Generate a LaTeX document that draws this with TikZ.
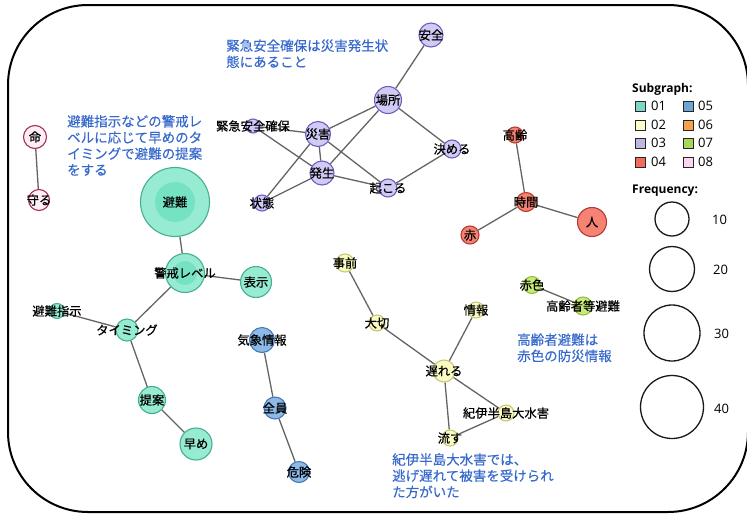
\documentclass[tikz,border=0pt]{standalone}
\usepackage{fontspec}
\setmainfont{Open Sans}
\newfontfamily\jp[FakeBold=0.6]{Noto Sans CJK JP}
\newfontfamily\jpa[FakeBold=0.4]{Noto Sans CJK JP}
\usetikzlibrary{backgrounds}
\definecolor{c1f}{RGB}{150,235,210}\definecolor{c1d}{RGB}{70,175,145}\definecolor{c1i}{RGB}{118,226,196}
\definecolor{c2f}{RGB}{250,250,195}\definecolor{c2d}{RGB}{200,200,120}
\definecolor{c3f}{RGB}{208,203,245}\definecolor{c3d}{RGB}{110,95,190}
\definecolor{c4f}{RGB}{245,130,115}\definecolor{c4d}{RGB}{180,60,50}
\definecolor{c5f}{RGB}{140,185,230}\definecolor{c5d}{RGB}{70,120,180}
\definecolor{c7f}{RGB}{200,235,120}\definecolor{c7d}{RGB}{140,190,70}
\definecolor{c8f}{RGB}{255,238,246}\definecolor{c8d}{RGB}{160,50,90}
\definecolor{L01}{RGB}{127,214,196}\definecolor{L02}{RGB}{255,255,204}
\definecolor{L03}{RGB}{190,184,224}\definecolor{L04}{RGB}{242,107,94}
\definecolor{L05}{RGB}{111,165,213}\definecolor{L06}{RGB}{247,161,79}
\definecolor{L07}{RGB}{168,216,90}\definecolor{L08}{RGB}{251,213,238}
\definecolor{annblue}{RGB}{55,105,205}
\definecolor{edgegray}{RGB}{100,100,100}
\tikzset{
  kw/.style={circle, inner sep=0pt, line width=1.1pt},
  lbl/.style={font=\jp\fontsize{12.3}{12.3}\selectfont, inner sep=0pt, text=black},
  s1/.style={kw, fill=c1f, draw=c1d},
  s2/.style={kw, fill=c2f, draw=c2d},
  s3/.style={kw, fill=c3f, draw=c3d},
  s4/.style={kw, fill=c4f, draw=c4d},
  s5/.style={kw, fill=c5f, draw=c5d},
  s7/.style={kw, fill=c7f, draw=c7d},
  s8/.style={kw, fill=c8f, draw=c8d},
  edge/.style={draw=edgegray, line width=1.3pt},
  ann/.style={font=\jpa\fontsize{13.5}{16.2}\selectfont, text=annblue, align=left, inner sep=0pt, anchor=base west},
  lghead/.style={font=\bfseries\fontsize{12}{12}\selectfont, anchor=west, inner sep=0pt},
  lgnum/.style={font=\fontsize{13}{13}\selectfont, anchor=west, inner sep=0pt},
  lgbox/.style={draw=black!85, line width=0.9pt, minimum size=10pt, inner sep=0pt},
  freq/.style={circle, draw=black!90, line width=1.3pt, inner sep=0pt}
}
\begin{document}
\begin{tikzpicture}[x=1pt,y=-1pt]
\useasboundingbox (0,0) rectangle (747,515);
\draw[line width=2pt, rounded corners=80pt] (8,5) rectangle (748,512);

% subgraph 01
\node[s1, minimum size=69pt, path picture={\fill[c1i] (path picture bounding box.center) circle (20pt);}, label={[lbl]center:避難}] (hinan) at (175,202) {};
\node[s1, minimum size=39pt, path picture={\fill[c1i] (path picture bounding box.center) circle (12pt);}, label={[lbl]center:警戒レベル}] (keikai) at (185,273) {};
\node[s1, minimum size=31pt, label={[lbl]center:表示}] (hyouji) at (256,282) {};
\node[s1, minimum size=15pt, label={[lbl]center:避難指示}] (shiji) at (57,311) {};
\node[s1, minimum size=22pt, label={[lbl]center:タイミング}] (timing) at (127,330) {};
\node[s1, minimum size=27pt, label={[lbl]center:提案}] (teian) at (152,400) {};
\node[s1, minimum size=32pt, label={[lbl]center:早め}] (hayame) at (196,444) {};

% subgraph 08
\node[s8, minimum size=23pt, label={[lbl]center:命}] (inochi) at (35,137) {};
\node[s8, minimum size=21pt, label={[lbl]center:守る}] (mamoru) at (39,200) {};

% subgraph 03
\node[s3, minimum size=24pt, label={[lbl]center:安全}] (anzen) at (431,35) {};
\node[s3, minimum size=27pt, label={[lbl]center:場所}] (basho) at (388,100) {};
\node[s3, minimum size=14pt, label={[lbl]center:緊急安全確保}] (kinkyu) at (253,126) {};
\node[s3, minimum size=25pt, label={[lbl]center:災害}] (saigai) at (318,134) {};
\node[s3, minimum size=18pt, label={[lbl]center:決める}] (kimeru) at (452,149) {};
\node[s3, minimum size=24pt, label={[lbl]center:発生}] (hassei) at (322,173) {};
\node[s3, minimum size=18pt, label={[lbl]center:起こる}] (okoru) at (388,188) {};
\node[s3, minimum size=16pt, label={[lbl]center:状態}] (joutai) at (262,203) {};

% subgraph 04
\node[s4, minimum size=16pt, label={[lbl]center:高齢}] (koureii) at (515,135) {};
\node[s4, minimum size=19pt, label={[lbl]center:時間}] (jikan) at (526,202) {};
\node[s4, minimum size=29pt, label={[lbl]center:人}] (hito) at (592,222) {};
\node[s4, minimum size=18pt, label={[lbl]center:赤}] (aka) at (470,235) {};

% subgraph 02
\node[s2, minimum size=18pt, label={[lbl]center:事前}] (jizen) at (345,263) {};
\node[s2, minimum size=16pt, label={[lbl]center:大切}] (taisetsu) at (377,323) {};
\node[s2, minimum size=16pt, label={[lbl]center:情報}] (jouhou) at (476,310) {};
\node[s2, minimum size=22pt, label={[lbl]center:遅れる}] (okureru) at (444,371) {};
\node[s2, minimum size=16pt, label={[lbl]center:紀伊半島大水害}] (kii) at (506,413) {};
\node[s2, minimum size=16pt, label={[lbl]center:流す}] (nagasu) at (450,438) {};

% subgraph 07
\node[s7, minimum size=17pt, label={[lbl]center:赤色}] (akairo) at (532,285) {};
\node[s7, minimum size=18pt, label={[lbl]center:高齢者等避難}] (koureisha) at (583,306) {};

% subgraph 05
\node[s5, minimum size=25pt, label={[lbl]center:気象情報}] (kishou) at (262,340) {};
\node[s5, minimum size=22pt, label={[lbl]center:全員}] (zenin) at (275,408) {};
\node[s5, minimum size=21pt, label={[lbl]center:危険}] (kiken) at (299,472) {};

\begin{scope}[on background layer]
\draw[edge] (hinan) -- (keikai);
\draw[edge] (keikai) -- (hyouji);
\draw[edge] (keikai) -- (timing);
\draw[edge] (shiji) -- (timing);
\draw[edge] (timing) -- (teian);
\draw[edge] (teian) -- (hayame);
\draw[edge] (inochi) -- (mamoru);
\draw[edge] (anzen) -- (basho);
\draw[edge] (basho) -- (saigai);
\draw[edge] (basho) -- (hassei);
\draw[edge] (basho) -- (kimeru);
\draw[edge] (kimeru) -- (okoru);
\draw[edge] (kinkyu) -- (saigai);
\draw[edge] (kinkyu) -- (hassei);
\draw[edge] (saigai) -- (hassei);
\draw[edge] (saigai) -- (okoru);
\draw[edge] (saigai) -- (joutai);
\draw[edge] (hassei) -- (joutai);
\draw[edge] (hassei) -- (okoru);
\draw[edge] (koureii) -- (jikan);
\draw[edge] (jikan) -- (hito);
\draw[edge] (jikan) -- (aka);
\draw[edge] (jizen) -- (taisetsu);
\draw[edge] (taisetsu) -- (okureru);
\draw[edge] (jouhou) -- (okureru);
\draw[edge] (okureru) -- (kii);
\draw[edge] (okureru) -- (nagasu);
\draw[edge] (nagasu) -- (kii);
\draw[edge] (akairo) -- (koureisha);
\draw[edge] (kishou) -- (zenin);
\draw[edge] (zenin) -- (kiken);
\end{scope}

% annotations (anchor = baseline of last line)
\node[ann] (ann1) at (226,67) {緊急安全確保は災害発生状\\態にあること};
\node[ann] (ann2) at (67,175) {避難指示などの警戒レ\\ベルに応じて早めのタ\\イミングで避難の提案\\をする};
\node[ann] (ann3) at (517,361) {高齢者避難は\\赤色の防災情報};
\node[ann] (ann4) at (392,497) {紀伊半島大水害では、\\逃げ遅れて被害を受けられ\\た方がいた};

% legend
\node[lghead] (lgsub) at (632,89) {Subgraph:};
\node[lgbox, fill=L01] (b01) at (640,106) {};
\node[lgbox, fill=L02] (b02) at (640,125) {};
\node[lgbox, fill=L03] (b03) at (640,143) {};
\node[lgbox, fill=L04] (b04) at (640,162) {};
\node[lgbox, fill=L05] (b05) at (688,106) {};
\node[lgbox, fill=L06] (b06) at (688,125) {};
\node[lgbox, fill=L07] (b07) at (688,143) {};
\node[lgbox, fill=L08] (b08) at (688,162) {};
\node[lgnum] (t01) at (651,106) {01};
\node[lgnum] (t02) at (651,125) {02};
\node[lgnum] (t03) at (651,143) {03};
\node[lgnum] (t04) at (651,162) {04};
\node[lgnum] (t05) at (698,106) {05};
\node[lgnum] (t06) at (698,125) {06};
\node[lgnum] (t07) at (698,143) {07};
\node[lgnum] (t08) at (698,162) {08};
\node[lghead] (lgfreq) at (632,191) {Frequency:};
\node[freq, minimum size=34pt] (f10) at (672,219) {};
\node[freq, minimum size=45pt] (f20) at (672,269) {};
\node[freq, minimum size=56pt] (f30) at (672,333) {};
\node[freq, minimum size=63pt] (f40) at (672,407) {};
\node[lgnum] (n10) at (712,220) {10};
\node[lgnum] (n20) at (713,270) {20};
\node[lgnum] (n30) at (714,334) {30};
\node[lgnum] (n40) at (714,409) {40};
\end{tikzpicture}
\end{document}
